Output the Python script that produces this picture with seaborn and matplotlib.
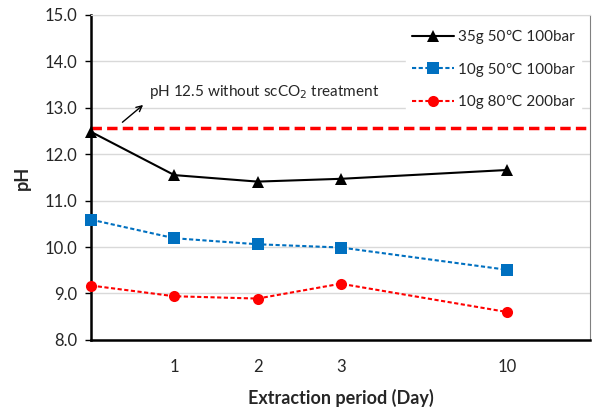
import numpy as np
import pandas as pd
import matplotlib
matplotlib.use("Agg")
import matplotlib.pyplot as plt
import seaborn as sns

# ---------------------------------------------------------------
# data
# ---------------------------------------------------------------
days = [0, 1, 2, 3, 10]
series_names = ["35g 50\u2103 100bar", "10g 50\u2103 100bar", "10g 80\u2103 200bar"]
ph_35g_50c = [12.48, 11.55, 11.41, 11.47, 11.66]
ph_10g_50c = [10.59, 10.19, 10.06, 9.99, 9.51]
ph_10g_80c = [9.17, 8.94, 8.89, 9.21, 8.60]
ph_untreated = 12.57
xtick_labels = ["", "1", "2", "3", "10"]

# day -> slot on the category axis (slot 4 left empty, as in the original)
slot = {0: 0, 1: 1, 2: 2, 3: 3, 10: 5}

df = pd.DataFrame({
    "day": days * 3,
    "pH": ph_35g_50c + ph_10g_50c + ph_10g_80c,
    "series": [n for n in series_names for _ in days],
})
df["pos"] = df["day"].map(slot)

sns.set_style("white")
plt.rcParams["font.family"] = ["Lato", "DejaVu Sans"]

fig = plt.figure(figsize=(5.92, 4.16), dpi=100)
ax = fig.add_axes([0.154, 0.183, 0.843, 0.781])

styles = {
    series_names[0]: dict(color="black", marker="^", ls="-", lw=1.5),
    series_names[1]: dict(color="#0070C0", marker="s", ls=(0, (2, 1.2)), lw=1.5),
    series_names[2]: dict(color="#FF0000", marker="o", ls=(0, (2, 1.2)), lw=1.5),
}
for name in series_names:
    st = styles[name]
    sns.lineplot(data=df[df["series"] == name], x="pos", y="pH", ax=ax,
                 color=st["color"], marker=st["marker"], linestyle=st["ls"],
                 lw=st["lw"], markersize=8, markeredgewidth=0, label=name,
                 clip_on=False, zorder=3)

# untreated reference level
ax.axhline(ph_untreated, color="#FF0000", lw=2.5, ls=(0, (3, 1.5)), zorder=2)
ax.annotate("", xy=(0.65, 13.1), xytext=(0.35, 12.65),
            arrowprops=dict(arrowstyle="->", color="black", lw=1))
ax.text(0.7, 13.15, "pH 12.5 without scCO$_2$ treatment", fontsize=11,
        ha="left", va="bottom")

ax.set_xlim(0, 6)
ax.set_ylim(8, 15)
ax.set_yticks(np.arange(8, 15.5, 1.0))
ax.set_yticklabels([f"{v:.1f}" for v in np.arange(8, 15.5, 1.0)], fontsize=12)
ax.set_xticks([slot[d] for d in days])
ax.set_xticklabels(xtick_labels, fontsize=12)
ax.grid(axis="y", color="#D9D9D9", lw=1)
ax.set_axisbelow(True)
ax.tick_params(axis="y", direction="out", length=4, width=1, color="black", left=True, pad=6)
ax.tick_params(axis="x", length=0, pad=14)

ax.spines["left"].set_color("black")
ax.spines["left"].set_linewidth(1.8)
ax.spines["bottom"].set_color("black")
ax.spines["bottom"].set_linewidth(1.8)
ax.spines["top"].set_color("#D9D9D9")
ax.spines["right"].set_color("#808080")

ax.set_xlabel("Extraction period (Day)", fontsize=13, fontweight="bold", labelpad=10)
ax.set_ylabel("pH", fontsize=13, fontweight="bold", labelpad=10)

leg = ax.legend(loc="upper right", fontsize=11, frameon=True, fancybox=False,
                edgecolor="white", framealpha=1, handlelength=2.7,
                handletextpad=0.3, borderaxespad=0.6, labelspacing=1.2)

fig.savefig("out.png", dpi=100)
